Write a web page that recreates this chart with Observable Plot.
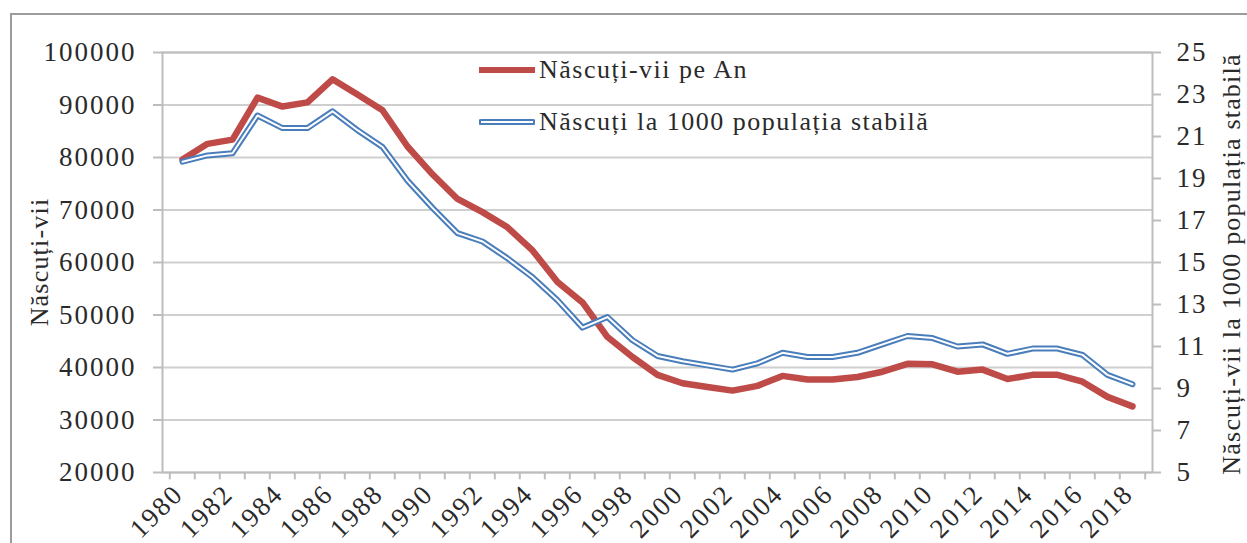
<!DOCTYPE html>
<html>
<head>
<meta charset="utf-8">
<script src="https://cdn.jsdelivr.net/npm/d3@7"></script>
<script src="https://cdn.jsdelivr.net/npm/@observablehq/plot@0.6"></script>
<style>
  body { margin: 0; background: #fff; }
  #wrap { position: relative; width: 1247px; height: 543px; overflow: hidden; font-family: "Liberation Serif", "Times New Roman", serif; color: #2a2a2a; }
  #border { position: absolute; left: 10px; top: 13px; width: 1300px; height: 600px; border-left: 2px solid #9c9c9c; border-top: 2px solid #9c9c9c; }
  #chart { position: absolute; left: 0; top: 0; }
  .title { position: absolute; white-space: nowrap; font-size: 26px; letter-spacing: 1.2px; transform: translate(-50%, -50%) rotate(-90deg); }
  #legend { position: absolute; left: 479px; top: 52px; font-size: 26px; letter-spacing: 1.5px; }
  .row { display: flex; align-items: center; height: 36px; }
  .row svg { margin-right: 4px; }
  .row + .row { margin-top: 16px; }
</style>
</head>
<body>
<div id="wrap">
  <div id="border"></div>
  <div id="chart"></div>
  <div class="title" style="left:40px; top:262px;">Născuți-vii</div>
  <div class="title" style="left:1232px; top:264px;">Născuți-vii la 1000 populația stabilă</div>
  <div id="legend">
    <div class="row"><svg width="56" height="10"><line x1="1" y1="5" x2="55" y2="5" stroke="#be4b48" stroke-width="6" stroke-linecap="round"/></svg><span>Născuți-vii pe An</span></div>
    <div class="row"><svg width="56" height="10"><line x1="2" y1="5" x2="54" y2="5" stroke="#4a7ebb" stroke-width="6" stroke-linecap="round"/><line x1="2" y1="5" x2="54" y2="5" stroke="#fff" stroke-width="2"/></svg><span>Născuți la 1000 populația stabilă</span></div>
  </div>
</div>
<script>
const years = [1980, 1981, 1982, 1983, 1984, 1985, 1986, 1987, 1988, 1989,
               1990, 1991, 1992, 1993, 1994, 1995, 1996, 1997, 1998, 1999,
               2000, 2001, 2002, 2003, 2004, 2005, 2006, 2007, 2008, 2009,
               2010, 2011, 2012, 2013, 2014, 2015, 2016, 2017, 2018];
const births = [79600, 82600, 83400, 91400, 89700, 90500, 94900, 92000, 89000, 82100,
                76800, 72100, 69600, 66700, 62300, 56300, 52400, 45800, 42000, 38600,
                37000, 36300, 35600, 36500, 38400, 37700, 37700, 38200, 39200, 40700,
                40600, 39200, 39600, 37800, 38600, 38600, 37300, 34400, 32600];
const rates = [19.8, 20.1, 20.2, 22.0, 21.4, 21.4, 22.2, 21.3, 20.5, 18.9,
               17.6, 16.4, 16.0, 15.2, 14.3, 13.2, 11.9, 12.4, 11.3, 10.55,
               10.3, 10.1, 9.9, 10.2, 10.7, 10.5, 10.5, 10.7, 11.1, 11.5,
               11.4, 11.0, 11.1, 10.65, 10.9, 10.9, 10.6, 9.65, 9.2];
const leftTicks = [20000, 30000, 40000, 50000, 60000, 70000, 80000, 90000, 100000];
const rightTicks = [5, 7, 9, 11, 13, 15, 17, 19, 21, 23, 25];
const xLabels = [1980, 1982, 1984, 1986, 1988, 1990, 1992, 1994, 1996, 1998,
                 2000, 2002, 2004, 2006, 2008, 2010, 2012, 2014, 2016, 2018];

// secondary axis mapping: right [5,25] -> left [20000,100000]
const toLeft = r => 20000 + (r - 5) * 4000;
const fromLeft = v => Math.round(5 + (v - 20000) / 4000);

const data = years.map((year, i) => ({year, births: births[i], rate: rates[i]}));

const W = 1247, H = 543, mL = 162, mR = 95, mT = 52, mB = 71;
const step = (W - mL - mR) / years.length;

const chart = Plot.plot({
  width: W, height: H,
  marginLeft: mL, marginRight: mR, marginTop: mT, marginBottom: mB,
  style: {fontFamily: "'Liberation Serif', 'Times New Roman', serif", fontSize: "27px", color: "#2a2a2a", background: "transparent", overflow: "visible", letterSpacing: "2px"},
  x: {type: "point", domain: years, padding: 0.5},
  y: {domain: [20000, 100000]},
  marks: [
    Plot.gridY(leftTicks, {stroke: "#cfcfcf", strokeOpacity: 1, strokeWidth: 2}),
    Plot.frame({stroke: "#bdbdbd", strokeWidth: 2}),
    Plot.axisY(leftTicks, {anchor: "left", tickSize: 9, tickPadding: 17, stroke: "#bdbdbd", strokeWidth: 2, label: null, tickFormat: d => String(d)}),
    Plot.axisY(rightTicks.map(toLeft), {anchor: "right", tickSize: 8, tickPadding: 16, stroke: "#bdbdbd", strokeWidth: 2, label: null, tickFormat: d => String(fromLeft(d))}),
    Plot.axisX(xLabels, {anchor: "bottom", tickSize: 0, tickPadding: 17, tickRotate: -45, label: null, dx: -4, tickFormat: d => String(d)}),
    Plot.ruleX(years, {x: d => d, y1: 20000, y2: 18600, dx: -step / 2, stroke: "#bdbdbd", strokeWidth: 2}),
    Plot.ruleX([years[years.length - 1]], {x: d => d, y1: 20000, y2: 18600, dx: step / 2, stroke: "#bdbdbd", strokeWidth: 2}),
    Plot.lineY(data, {x: "year", y: "births", stroke: "#be4b48", strokeWidth: 6.5, strokeLinejoin: "round", strokeLinecap: "round"}),
    Plot.lineY(data, {x: "year", y: d => toLeft(d.rate), stroke: "#4a7ebb", strokeWidth: 6, strokeLinejoin: "round", strokeLinecap: "round"}),
    Plot.lineY(data, {x: "year", y: d => toLeft(d.rate), stroke: "#ffffff", strokeWidth: 2, strokeLinejoin: "round"})
  ]
});
document.getElementById("chart").appendChild(chart);
</script>
</body>
</html>
